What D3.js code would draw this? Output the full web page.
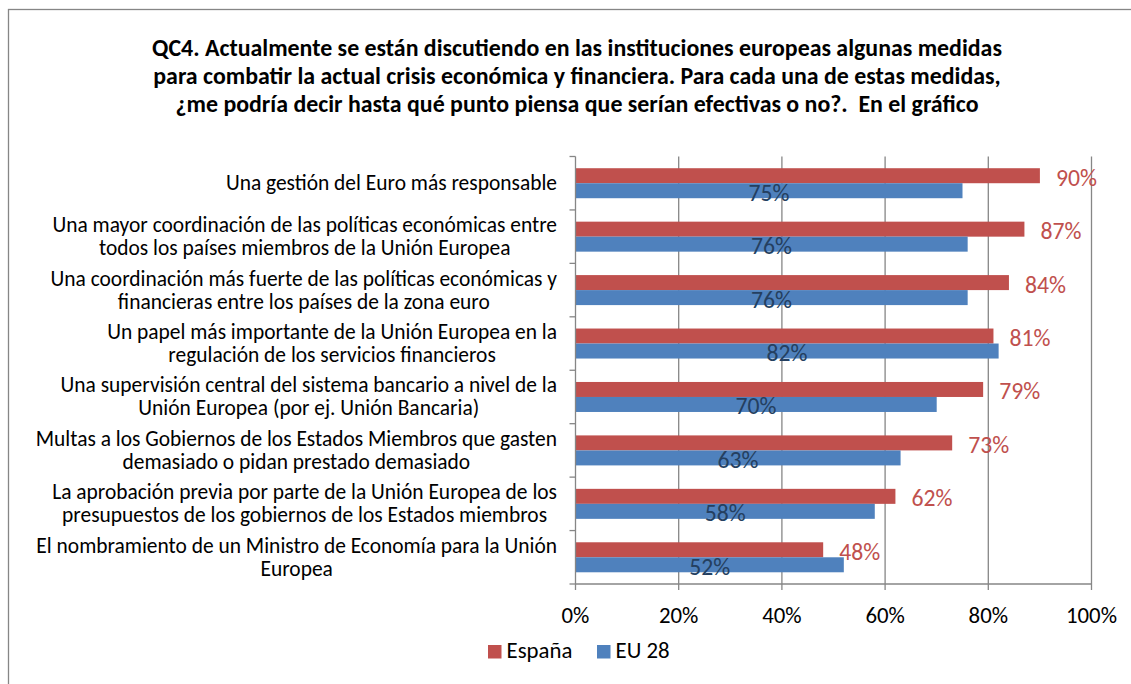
<!DOCTYPE html>
<meta charset="utf-8">
<style>
body { margin: 0; background: #fff; }
text { font-family: Carlito, Lato, "Open Sans", sans-serif; white-space: pre; }
.grid line, .axis line { stroke: #868686; stroke-width: 1.3px; }
</style>
<svg width="1131" height="684"></svg>
<script src="https://cdn.jsdelivr.net/npm/d3@7"></script>
<script>

var titleLines = [
  "QC4. Actualmente se están discutiendo en las instituciones europeas algunas medidas",
  "para combatir la actual crisis económica y financiera. Para cada una de estas medidas,",
  "¿me podría decir hasta qué punto piensa que serían efectivas o no?.  En el gráfico"
];

var categories = [
  ["Una gestión del Euro más responsable"],
  ["Una mayor coordinación de las políticas económicas entre", "todos los países miembros de la Unión Europea"],
  ["Una coordinación más fuerte de las políticas económicas y", "financieras entre los países de la zona euro"],
  ["Un papel más importante de la Unión Europea en la", "regulación de los servicios financieros"],
  ["Una supervisión central del sistema bancario a nivel de la", "Unión Europea (por ej. Unión Bancaria)"],
  ["Multas a los Gobiernos de los Estados Miembros que gasten", "demasiado o pidan prestado demasiado"],
  ["La aprobación previa por parte de la Unión Europea de los", "presupuestos de los gobiernos de los Estados miembros"],
  ["El nombramiento de un Ministro de Economía para la Unión", "Europea"]
];

var espana = [90, 87, 84, 81, 79, 73, 62, 48];
var eu28   = [75, 76, 76, 82, 70, 63, 58, 52];

var seriesNames = ["España", "EU 28"];
var xTicks = [0, 20, 40, 60, 80, 100];

var red = "#c0504d", blue = "#4f81bd";

var svg = d3.select("svg");

// frame
svg.append("rect")
    .attr("x", 8.5).attr("y", 9.5)
    .attr("width", 1140).attr("height", 700)
    .attr("fill", "none").attr("stroke", "#868686").attr("stroke-width", 1.3);

// fit a font size so that a sample string gets a given width
function fitSize(str, weight, target) {
  var t = svg.append("text").attr("font-size", 100).attr("font-weight", weight).text(str);
  var w = t.node().getComputedTextLength();
  t.remove();
  return 100 * target / w;
}

// title
var titleSize = fitSize(titleLines[0], "bold", 850);
svg.append("g").selectAll("text")
  .data(titleLines)
  .enter().append("text")
    .attr("x", 577)
    .attr("y", function(d, i) { return 47 + i * 28; })
    .attr("text-anchor", "middle")
    .attr("dominant-baseline", "central")
    .attr("font-weight", "bold")
    .attr("font-size", titleSize)
    .text(function(d) { return d; });

var x = d3.scaleLinear().domain([0, 100]).range([575.5, 1091.5]);
var y = d3.scaleBand().domain(d3.range(categories.length)).range([156.5, 584]);
var bw = y.bandwidth();
var barH = 15;

// gridlines
svg.append("g").attr("class", "grid")
  .selectAll("line")
  .data(xTicks.slice(1))
  .enter().append("line")
    .attr("x1", function(d) { return x(d); }).attr("x2", function(d) { return x(d); })
    .attr("y1", 156.5).attr("y2", 584);

// bars
var rows = svg.append("g").selectAll("g")
  .data(categories)
  .enter().append("g")
    .attr("transform", function(d, i) { return "translate(0," + (y(i) + bw / 2) + ")"; });

rows.append("rect")
    .attr("x", x(0))
    .attr("y", -barH)
    .attr("width", function(d, i) { return x(espana[i]) - x(0); })
    .attr("height", barH)
    .attr("fill", red);

rows.append("rect")
    .attr("x", x(0))
    .attr("y", 0)
    .attr("width", function(d, i) { return x(eu28[i]) - x(0); })
    .attr("height", barH)
    .attr("fill", blue);

var dataSize = fitSize("90%", "normal", 41);

rows.append("text")
    .attr("x", function(d, i) { return x(espana[i]) + 16; })
    .attr("y", -barH / 2 + 1.5)
    .attr("dominant-baseline", "central")
    .attr("font-size", dataSize)
    .attr("fill", red)
    .text(function(d, i) { return espana[i] + "%"; });

rows.append("text")
    .attr("x", function(d, i) { return (x(0) + x(eu28[i])) / 2; })
    .attr("y", barH / 2 + 1.5)
    .attr("text-anchor", "middle")
    .attr("dominant-baseline", "central")
    .attr("font-size", dataSize)
    .attr("fill", "#243f60")
    .text(function(d, i) { return eu28[i] + "%"; });

// category labels, lines centred inside a right-aligned block
var catSize = fitSize(categories[1][0], "normal", 505);
rows.each(function(lines) {
  var g = d3.select(this);
  var t = g.append("text")
      .attr("text-anchor", "middle")
      .attr("font-size", catSize);
  t.selectAll("tspan")
    .data(lines)
    .enter().append("tspan")
      .attr("y", function(d, i) { return (i - (lines.length - 1) / 2) * 23; })
      .attr("dominant-baseline", "central")
      .text(function(d) { return d; });
  var maxW = 0;
  t.selectAll("tspan").each(function() { maxW = Math.max(maxW, this.getComputedTextLength()); });
  t.selectAll("tspan").attr("x", 557 - maxW / 2);
});

// axes
var axes = svg.append("g").attr("class", "axis");
axes.append("line").attr("x1", x(0)).attr("x2", x(0)).attr("y1", 156.5).attr("y2", 584);
axes.append("line").attr("x1", x(0)).attr("x2", x(100)).attr("y1", 584).attr("y2", 584);

axes.selectAll(".yt")
  .data(d3.range(categories.length + 1))
  .enter().append("line")
    .attr("x1", x(0) - 6).attr("x2", x(0))
    .attr("y1", function(d) { return 156.5 + d * bw; })
    .attr("y2", function(d) { return 156.5 + d * bw; });

axes.selectAll(".xt")
  .data(xTicks)
  .enter().append("line")
    .attr("x1", function(d) { return x(d); }).attr("x2", function(d) { return x(d); })
    .attr("y1", 584).attr("y2", 590);

var tickSize = fitSize("100%", "normal", 51);
svg.append("g").selectAll("text")
  .data(xTicks)
  .enter().append("text")
    .attr("x", function(d) { return x(d); })
    .attr("y", 623)
    .attr("text-anchor", "middle")
    .attr("font-size", tickSize)
    .text(function(d) { return d + "%"; });

// legend
var legendX = [488, 597];
var legend = svg.append("g").selectAll("g")
  .data(seriesNames)
  .enter().append("g")
    .attr("transform", function(d, i) { return "translate(" + legendX[i] + ",645)"; });
legend.append("rect")
    .attr("width", 13.5).attr("height", 13.5)
    .attr("fill", function(d, i) { return i ? blue : red; });
legend.append("text")
    .attr("x", 18.5)
    .attr("y", 13.3)
    .attr("font-size", tickSize)
    .text(function(d) { return d; });

</script>
